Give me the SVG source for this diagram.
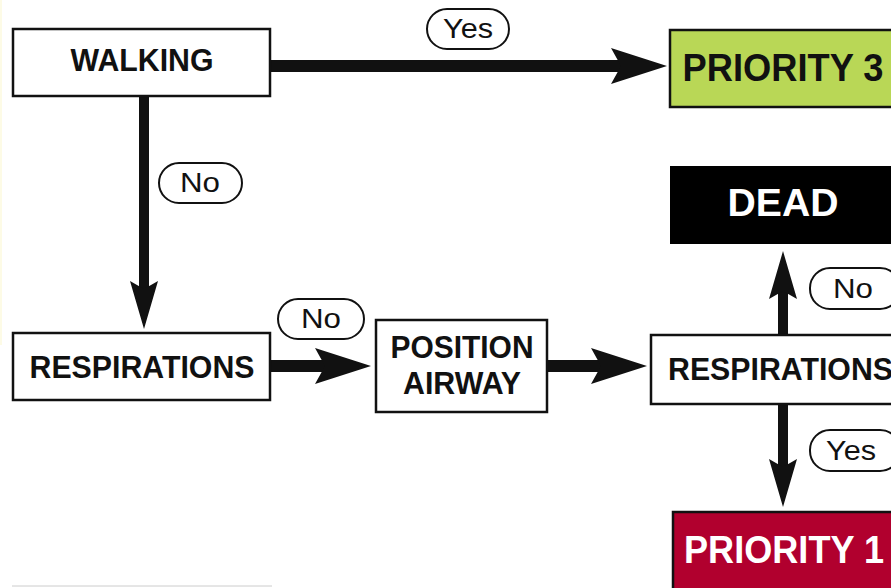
<svg xmlns="http://www.w3.org/2000/svg" width="891" height="588" viewBox="0 0 891 588">
<style>
.box{fill:#fff;stroke:#111;stroke-width:2.5}
.bt{font-family:"Liberation Sans",Arial,sans-serif;font-weight:bold;fill:#111;text-anchor:middle}
.wt{fill:#fff}
.pill{fill:#fff;stroke:#111;stroke-width:2}
.lt{font-family:"Liberation Sans",Arial,sans-serif;font-size:27px;fill:#111;text-anchor:middle}
.h{stroke:#111;stroke-width:12;fill:none}
.v{stroke:#111;stroke-width:10;fill:none}
</style>
<defs>
<marker id="ah" markerUnits="userSpaceOnUse" markerWidth="56" markerHeight="36" viewBox="0 0 56 36" refX="12" refY="18" orient="auto">
<path d="M0,0 L56,18 L0,36 L10,18 Z" fill="#111"/>
</marker>
<marker id="av" markerUnits="userSpaceOnUse" markerWidth="48" markerHeight="28" viewBox="0 0 48 28" refX="10" refY="14" orient="auto">
<path d="M0,0 L48,14 L0,28 L8,14 Z" fill="#111"/>
</marker>
</defs>
<rect x="0" y="0" width="891" height="588" fill="#fff"/>
<rect x="0" y="0" width="2" height="345" fill="#fdfbe6"/>
<line x1="12" y1="586" x2="272" y2="586" stroke="#ccc" stroke-width="1"/>
<g id="connectors">
<line class="h" x1="271" y1="66" x2="623" y2="66" marker-end="url(#ah)"/>
<line class="v" x1="144" y1="96" x2="144" y2="291" marker-end="url(#av)"/>
<line class="h" x1="271" y1="366" x2="327" y2="366" marker-end="url(#ah)"/>
<line class="h" x1="547" y1="366" x2="603" y2="366" marker-end="url(#ah)"/>
<line class="v" x1="783" y1="335" x2="783" y2="289" marker-end="url(#av)"/>
<line class="v" x1="783" y1="404" x2="783" y2="469" marker-end="url(#av)"/>
</g>
<g id="label-yes-top"><rect class="pill" x="427" y="9" width="82" height="40" rx="20"/><text class="lt" x="468" y="38" textLength="50" lengthAdjust="spacingAndGlyphs">Yes</text></g>
<g id="label-no-left"><rect class="pill" x="159" y="163" width="83" height="40" rx="20"/><text class="lt" x="200" y="192" textLength="40" lengthAdjust="spacingAndGlyphs">No</text></g>
<g id="label-no-mid"><rect class="pill" x="278" y="299" width="86" height="40" rx="20"/><text class="lt" x="321" y="328" textLength="40" lengthAdjust="spacingAndGlyphs">No</text></g>
<g id="label-no-right"><rect class="pill" x="810" y="268" width="90" height="41" rx="20"/><text class="lt" x="853" y="298" textLength="40" lengthAdjust="spacingAndGlyphs">No</text></g>
<g id="label-yes-right"><rect class="pill" x="810" y="430" width="90" height="41" rx="20"/><text class="lt" x="851" y="460" textLength="50" lengthAdjust="spacingAndGlyphs">Yes</text></g>
<g id="walking"><rect class="box" x="13" y="29" width="257" height="67"/><text class="bt" x="142" y="71" font-size="32" textLength="143" lengthAdjust="spacingAndGlyphs">WALKING</text></g>
<g id="priority3"><rect x="670" y="30" width="230" height="77" fill="#b9d756" stroke="#111" stroke-width="2.5"/><text class="bt" x="783" y="81" font-size="38" textLength="201" lengthAdjust="spacingAndGlyphs">PRIORITY 3</text></g>
<g id="dead"><rect x="670" y="166" width="230" height="78" fill="#000"/><text class="bt wt" x="783" y="216" font-size="38" textLength="111" lengthAdjust="spacingAndGlyphs">DEAD</text></g>
<g id="respirations1"><rect class="box" x="13" y="333" width="257" height="67"/><text class="bt" x="142" y="378" font-size="32" textLength="225" lengthAdjust="spacingAndGlyphs">RESPIRATIONS</text></g>
<g id="position-airway"><rect class="box" x="376" y="320" width="171" height="92"/><text class="bt" x="462" y="358" font-size="32" textLength="143" lengthAdjust="spacingAndGlyphs">POSITION</text><text class="bt" x="462" y="394" font-size="32" textLength="118" lengthAdjust="spacingAndGlyphs">AIRWAY</text></g>
<g id="respirations2"><rect class="box" x="651" y="335" width="250" height="69"/><text class="bt" x="668" y="380" font-size="32" textLength="225" lengthAdjust="spacingAndGlyphs" style="text-anchor:start">RESPIRATIONS</text></g>
<g id="priority1"><rect x="673" y="512" width="230" height="80" fill="#b1002e" stroke="#111" stroke-width="2.5"/><text class="bt wt" x="684" y="563" font-size="38" textLength="200" lengthAdjust="spacingAndGlyphs" style="text-anchor:start">PRIORITY 1</text></g>
</svg>
